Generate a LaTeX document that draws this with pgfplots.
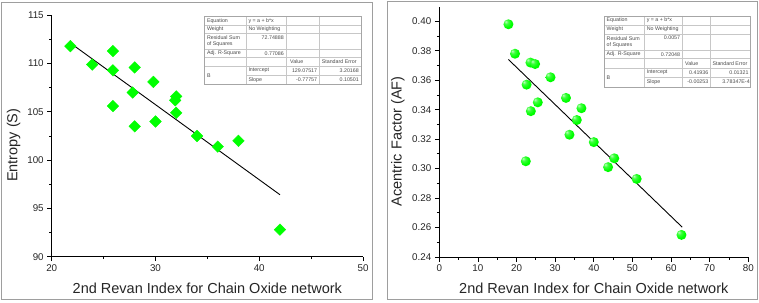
\documentclass[border=0pt]{standalone}
\usepackage{pgfplots}
\pgfplotsset{compat=1.18}
\usepackage{fontspec}
\setmainfont{Liberation Sans}
\definecolor{framegray}{gray}{0.62}
\definecolor{tabline}{gray}{0.78}
\definecolor{tabtext}{gray}{0.30}
\definecolor{limegreen}{rgb}{0,1,0}
\pgfdeclareradialshading{greenball}{\pgfpoint{-14bp}{14bp}}{%
  color(0bp)=(limegreen!25!white); color(10bp)=(limegreen!75!white);
  color(24bp)=(limegreen); color(50bp)=(limegreen!92!black);
  color(64bp)=(limegreen!70!black)}
\pgfdeclareplotmark{gball}{%
  \pgfpathcircle{\pgfpointorigin}{\pgfplotmarksize}%
  \pgfshadepath{greenball}{0}%
  \pgfusepath{discard}}
\pgfplotsset{
  myax/.style={
    scale only axis,
    axis x line*=bottom, axis y line*=left,
    axis line style={-, line width=0.8pt, black},
    tick align=outside,
    major tick length=4.5pt, minor tick length=2.5pt,
    every tick/.style={black, line width=0.8pt},
    minor tick num=1,
    tick label style={font=\fontsize{9.8}{11}\selectfont, text=black!85},
    label style={font=\fontsize{14.5}{16}\selectfont, text=black!85},
    /pgf/number format/assume math mode=true,
    clip=false,
  }
}
\newcommand{\tfont}{\fontsize{5.3}{6.2}\selectfont}
\begin{document}
\begin{tikzpicture}
\path[use as bounding box] (0,0) rectangle (759pt,302pt);
\fill[white] (0,0) rectangle (759pt,302pt);

% ---------------- Left axis ----------------
\begin{axis}[myax,
  at={(51.7pt,45.3pt)}, anchor=south west,
  width=311.3pt, height=241.4pt,
  xmin=20, xmax=50, ymin=90, ymax=115,
  xtick={20,30,40,50}, ytick={90,95,...,115},
  xlabel={2nd Revan Index for Chain Oxide network},
  ylabel={Entropy (S)},
  xlabel style={at={(axis description cs:0.5,-0.131)}, anchor=center},
  ylabel style={at={(axis description cs:-0.122,0.462)}, anchor=center},
]
\addplot[black, line width=0.9pt] coordinates {(21.8,112.124) (42.0,96.417)};
\addplot[only marks, mark=square*, mark size=4.1pt,
  mark options={rotate=45, fill=limegreen, draw=limegreen}] coordinates {
  (21.8,111.8) (23.9,109.9) (25.9,111.3) (25.9,109.3) (25.9,105.6)
  (28.0,109.6) (27.8,107.0) (28.0,103.5) (29.8,108.1) (30.0,104.0)
  (32.0,106.6) (31.9,106.2) (32.0,104.9) (34.0,102.5) (36.0,101.4)
  (38.0,102.0) (42.0,92.8)
};
\end{axis}

% ---------------- Right axis ----------------
\begin{axis}[myax,
  at={(439.3pt,45pt)}, anchor=south west,
  width=309pt, height=250.4pt,
  xmin=0, xmax=80, ymin=0.24, ymax=0.41,
  xtick={0,10,...,80}, ytick={0.24,0.26,...,0.401},
  yticklabel style={/pgf/number format/.cd, fixed, fixed zerofill, precision=2},
  scaled y ticks=false,
  xlabel={2nd Revan Index for Chain Oxide network},
  ylabel={Acentric Factor (AF)},
  xlabel style={at={(axis description cs:0.5,-0.124)}, anchor=center},
  ylabel style={at={(axis description cs:-0.134,0.462)}, anchor=center},
]
\addplot[black, line width=0.9pt] coordinates {(17.9,0.37407) (62.9,0.26022)};
\addplot[only marks, mark=gball, mark size=5pt] coordinates {
  (17.9,0.398) (19.6,0.378) (23.6,0.372) (24.8,0.371) (22.6,0.357)
  (28.8,0.362) (25.5,0.345) (23.7,0.339) (32.8,0.348) (36.8,0.341)
  (35.6,0.333) (33.7,0.323) (40.0,0.318) (22.4,0.305) (45.3,0.307)
  (43.7,0.301) (51.1,0.293) (62.7,0.255)
};
\end{axis}

% ---------------- Frames and tables (pixel coords, y down) ----------------
\begin{scope}[x=1pt, y=-1pt, yshift=302pt]
\draw[framegray, line width=0.8pt] (1,2.5) rectangle (372.3,299.2);
\draw[framegray, line width=0.8pt] (387.7,1.6) rectangle (757.4,299.6);

% left table
\def\ca{204.3}\def\cb{246}\def\cc{286}\def\cd{319.3}\def\ce{361}
\def\ra{16.7}\def\rb{25}\def\rc{33.7}\def\rd{49.3}\def\re{57.7}\def\rf{66}\def\rg{75.3}\def\rh{84.3}
\fill[white] (\ca,\ra) rectangle (\ce,\rh);
\foreach \y in {\rb,\rc,\rd,\re,\rf} \draw[tabline, line width=0.5pt] (\ca,\y) -- (\ce,\y);
\draw[tabline, line width=0.5pt] (\cb,\rg) -- (\ce,\rg);
\foreach \x in {\cb,\cc,\cd} \draw[tabline, line width=0.5pt] (\x,\ra) -- (\x,\rh);
\draw[gray!70, line width=0.6pt] (\ca,\ra) rectangle (\ce,\rh);
\begin{scope}[every node/.style={font=\tfont, text=tabtext, inner sep=0pt}]
\node[anchor=west] at (\ca+2.5,20.9) {Equation};
\node[anchor=west] at (\cb+2.3,20.9) {y = a + b*x};
\node[anchor=west] at (\ca+2.5,29.4) {Weight};
\node[anchor=west] at (\cb+2.3,29.4) {No Weighting};
\node[anchor=west, align=left] at (\ca+2.5,41.5) {Residual Sum\\of Squares};
\node[anchor=east] at (\cc-2,37.4) {72.74888};
\node[anchor=west] at (\ca+2.5,53.5) {Adj. R-Square};
\node[anchor=east] at (\cc-2,53.5) {0.77086};
\node[anchor=west] at (\cc+4,61.8) {Value};
\node[anchor=west] at (\cd+2.3,61.8) {Standard Error};
\node[anchor=west] at (\ca+2.5,75.6) {B};
\node[anchor=west] at (\cb+2.3,70.6) {Intercept};
\node[anchor=east] at (\cd-2,70.6) {129.07517};
\node[anchor=east] at (\ce-2,70.6) {3.20168};
\node[anchor=west] at (\cb+2.3,79.8) {Slope};
\node[anchor=east] at (\cd-2,79.8) {-0.77757};
\node[anchor=east] at (\ce-2,79.8) {0.10501};
\end{scope}

% right table
\def\ca{604}\def\cb{644.3}\def\cc{682.3}\def\cd{710}\def\ce{750.7}
\def\ra{16}\def\rb{25}\def\rc{34}\def\rd{50.3}\def\re{58.7}\def\rf{68}\def\rg{77.3}\def\rh{87}
\fill[white] (\ca,\ra) rectangle (\ce,\rh);
\foreach \y in {\rb,\rc,\rd,\re,\rf} \draw[tabline, line width=0.5pt] (\ca,\y) -- (\ce,\y);
\draw[tabline, line width=0.5pt] (\cb,\rg) -- (\ce,\rg);
\foreach \x in {\cb,\cc,\cd} \draw[tabline, line width=0.5pt] (\x,\ra) -- (\x,\rh);
\draw[gray!70, line width=0.6pt] (\ca,\ra) rectangle (\ce,\rh);
\begin{scope}[every node/.style={font=\tfont, text=tabtext, inner sep=0pt}]
\node[anchor=west] at (\ca+2.5,20.5) {Equation};
\node[anchor=west] at (\cb+2.3,20.5) {y = a + b*x};
\node[anchor=west] at (\ca+2.5,29.5) {Weight};
\node[anchor=west] at (\cb+2.3,29.5) {No Weighting};
\node[anchor=west, align=left] at (\ca+2.5,42.2) {Residual Sum\\of Squares};
\node[anchor=east] at (\cc-2,37.7) {0.0057};
\node[anchor=west] at (\ca+2.5,54.5) {Adj. R-Square};
\node[anchor=east] at (\cc-2,54.5) {0.72048};
\node[anchor=west] at (\cc+2.7,63.3) {Value};
\node[anchor=west] at (\cd+2.3,63.3) {Standard Error};
\node[anchor=west] at (\ca+2.5,77.5) {B};
\node[anchor=west] at (\cb+2.3,72.6) {Intercept};
\node[anchor=east] at (\cd-1.5,72.6) {0.41936};
\node[anchor=east] at (\ce-2,72.6) {0.01321};
\node[anchor=west] at (\cb+2.3,82.1) {Slope};
\node[anchor=east] at (\cd-1.5,82.1) {-0.00253};
\node[anchor=east] at (\ce-0.8,82.1) {3.78347E-4};
\end{scope}
\end{scope}
\end{tikzpicture}
\end{document}
